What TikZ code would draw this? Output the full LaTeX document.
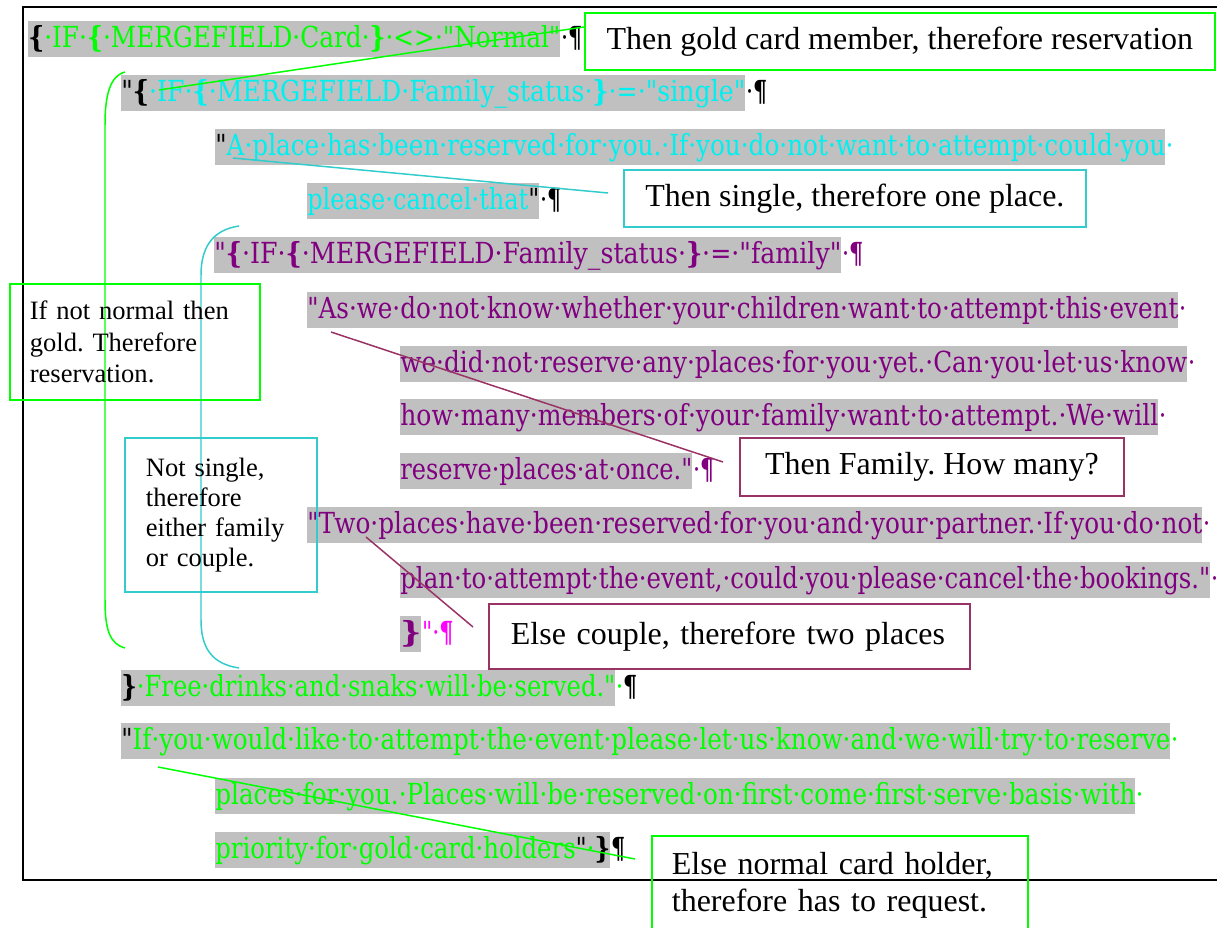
\documentclass[tikz,border=0pt]{standalone}
\usepackage{fontspec}
\usepackage{graphicx}
\usepackage{xcolor}
\usepackage{tikz}
\setmainfont{Liberation Serif}
\newfontfamily\wordfont{DejaVu Serif}
\definecolor{wgreen}{HTML}{00FF00}
\definecolor{wcyan}{HTML}{00F0F0}
\definecolor{wteal}{HTML}{33CCCC}
\definecolor{wpurple}{HTML}{800080}
\definecolor{wmagenta}{HTML}{FF00FF}
\definecolor{wplum}{HTML}{993366}
\definecolor{hlgrey}{HTML}{C0C0C0}

\newlength\px
\setlength\px{0.02cm}
\newcommand\fitw[2]{\resizebox{#1\px}{\height}{#2}}
\newcommand\tailw[1]{\scalebox{0.77}[1]{#1}}
\newcommand\fld[1]{\textbf{#1}}
\newcommand\kfld[1]{\textcolor{black}{\textbf{#1}}}
\frenchspacing

\tikzset{
  hl/.style={fill=hlgrey,inner sep=0pt,anchor=north west,text height=26\px,text depth=10\px,
    font=\wordfont\fontsize{16.5}{18}\selectfont},
  tail/.style={anchor=base west,inner sep=0pt,font=\wordfont\fontsize{16.5}{18}\selectfont},
  note/.style={draw,line width=1pt,inner sep=0pt,anchor=north west,text=black,
    font=\fontsize{18.2}{21}\selectfont},
  notel/.style={note,align=left,inner ysep=0pt},
  link/.style={line width=0.85pt}
}

\begin{document}
\begin{tikzpicture}[x=0.02cm,y=-0.02cm]
  \clip (0,0) rectangle (1217,928);
  \fill[white] (0,0) rectangle (1217,928);
  % page frame
  \draw[line width=1.1pt] (23,7) rectangle (1240,880);

  % field code, one grey run per line
  \node[hl,text=wgreen] (l1) at (28,21) {\fitw{532}{\kfld{\{}·IF·\fld{\{}·MERGEFIELD·Card·\fld{\}}·<>·"Normal"}};
  \node[tail] (t1) at (l1.base east) {\tailw{·\textbf{¶}}};
  \node[hl,text=wcyan] (l2) at (121,75) {\fitw{624}{\textcolor{black}{"}\kfld{\{}·IF·\fld{\{}·MERGEFIELD·Family\_status·\fld{\}}·=·"single"}};
  \node[tail] (t2) at (l2.base east) {\tailw{·\textbf{¶}}};
  \node[hl,text=wcyan] (l3) at (215,129) {\fitw{950}{\textcolor{black}{"}A·place·has·been·reserved·for·you.·If·you·do·not·want·to·attempt·could·you}};
  \node[tail,text=wcyan] (t3) at (l3.base east) {\tailw{·}};
  \node[hl,text=wcyan] (l4) at (307,183) {\fitw{232}{please·cancel·that\textcolor{black}{"}}};
  \node[tail] (t4) at (l4.base east) {\tailw{·\textbf{¶}}};
  \node[hl,text=wpurple] (l5) at (214,237) {\fitw{627}{"\fld{\{}·IF·\fld{\{}·MERGEFIELD·Family\_status·\fld{\}}·=·"family"}};
  \node[tail,text=wpurple] (t5) at (l5.base east) {\tailw{·\textbf{¶}}};
  \node[hl,text=wpurple] (l6) at (307,292) {\fitw{871}{"As·we·do·not·know·whether·your·children·want·to·attempt·this·event}};
  \node[tail,text=wpurple] (t6) at (l6.base east) {\tailw{·}};
  \node[hl,text=wpurple] (l7) at (400,346) {\fitw{787}{we·did·not·reserve·any·places·for·you·yet.·Can·you·let·us·know}};
  \node[tail,text=wpurple] (t7) at (l7.base east) {\tailw{·}};
  \node[hl,text=wpurple] (l8) at (400,399) {\fitw{758}{how·many·members·of·your·family·want·to·attempt.·We·will}};
  \node[tail,text=wpurple] (t8) at (l8.base east) {\tailw{·}};
  \node[hl,text=wpurple] (l9) at (400,453) {\fitw{292}{reserve·places·at·once."}};
  \node[tail,text=wpurple] (t9) at (l9.base east) {\tailw{·\textbf{¶}}};
  \node[hl,text=wpurple] (l10) at (307,507) {\fitw{895}{"Two·places·have·been·reserved·for·you·and·your·partner.·If·you·do·not}};
  \node[tail,text=wpurple] (t10) at (l10.base east) {\tailw{·}};
  \node[hl,text=wpurple] (l11) at (400,562) {\fitw{810}{plan·to·attempt·the·event,·could·you·please·cancel·the·bookings."}};
  \node[tail,text=wpurple] (t11) at (l11.base east) {\tailw{·}};
  \node[hl,text=wpurple] (l12) at (400,616) {\fitw{21}{\fld{\}}}};
  \node[tail,text=wmagenta] (t12) at (l12.base east) {\tailw{"·\textbf{¶}}};
  \node[hl,text=wgreen] (l13) at (121,670) {\fitw{494}{\kfld{\}}·Free·drinks·and·snaks·will·be·served."}};
  \node[tail,text=wgreen] (t13) at (l13.base east) {\tailw{·\textcolor{black}{\textbf{¶}}}};
  \node[hl,text=wgreen] (l14) at (121,723) {\fitw{1049}{\textcolor{black}{"}If·you·would·like·to·attempt·the·event·please·let·us·know·and·we·will·try·to·reserve}};
  \node[tail,text=wgreen] (t14) at (l14.base east) {\tailw{·}};
  \node[hl,text=wgreen] (l15) at (215,778) {\fitw{920}{places·for·you.·Places·will·be·reserved·on·first·come·first·serve·basis·with}};
  \node[tail,text=wgreen] (t15) at (l15.base east) {\tailw{·}};
  \node[hl,text=wgreen] (l16) at (215,832) {\fitw{395}{priority·for·gold·card·holders\textcolor{black}{"}·\kfld{\}}}};
  \node[tail] (t16) at (l16.base east) {\tailw{\textbf{¶}}};

  % brackets round the nested IF fields
  \draw[link,wgreen] (125,72) .. controls (110,76) and (105,95) .. (105,125) -- (105,600)
    .. controls (105,630) and (110,644) .. (125,648);
  \draw[link,wteal] (239,226) .. controls (212,230) and (201,248) .. (201,275) -- (201,620)
    .. controls (201,648) and (212,664) .. (239,668);

  % callout ends
  \coordinate (kA) at (584,27);
  \coordinate (kIF) at (159,90);
  \coordinate (kB) at (608,193);
  \coordinate (kPlace) at (233,158);
  \coordinate (kD) at (723,462);
  \coordinate (kAs) at (331,332);
  \coordinate (kE) at (473,627);
  \coordinate (kTwo) at (366,537);
  \coordinate (kF) at (635,859);
  \coordinate (kYou) at (158,767);

  \draw[link,wgreen] (kA) -- (kIF);
  \draw[link,wteal] (kPlace) -- (kB);
  \draw[link,wplum] (kAs) -- (kD);
  \draw[link,wplum] (kTwo) -- (kE);
  \draw[link,wgreen] (kYou) -- (kF);

  % notes
  \node[note,draw=wgreen,minimum width=630\px,minimum height=57\px] (nA) at (584,12)
    {Then gold card member, therefore reservation};
  \node[note,draw=wteal,minimum width=462\px,minimum height=57\px] (nB) at (623,169)
    {Then single, therefore one place.};
  \node[notel,draw=wgreen,text width=210\px,inner xsep=20\px,minimum height=116\px,
    font=\fontsize{15.1}{17.9}\selectfont] (nC) at (9,283)
    {If not normal then\\gold. Therefore\\reservation.};
  \node[notel,draw=wteal,text width=150\px,inner xsep=21\px,minimum height=154\px,
    font=\fontsize{15.1}{17.1}\selectfont] (nG) at (124,437)
    {Not single,\\therefore\\either family\\or couple.};
  \node[note,draw=wplum,minimum width=384\px,minimum height=58\px] (nD) at (739,437)
    {Then Family. How many?};
  \node[notel,draw=wplum,text width=437\px,inner xsep=22\px,minimum height=65\px] (nE) at (488,603)
    {Else couple, therefore two places};
  \node[notel,draw=wgreen,text width=336\px,inner xsep=20\px,minimum height=98\px,
    font=\fontsize{18.2}{21.05}\selectfont] (nF) at (651,835)
    {Else normal card holder,\\therefore has to request.};
\end{tikzpicture}
\end{document}
